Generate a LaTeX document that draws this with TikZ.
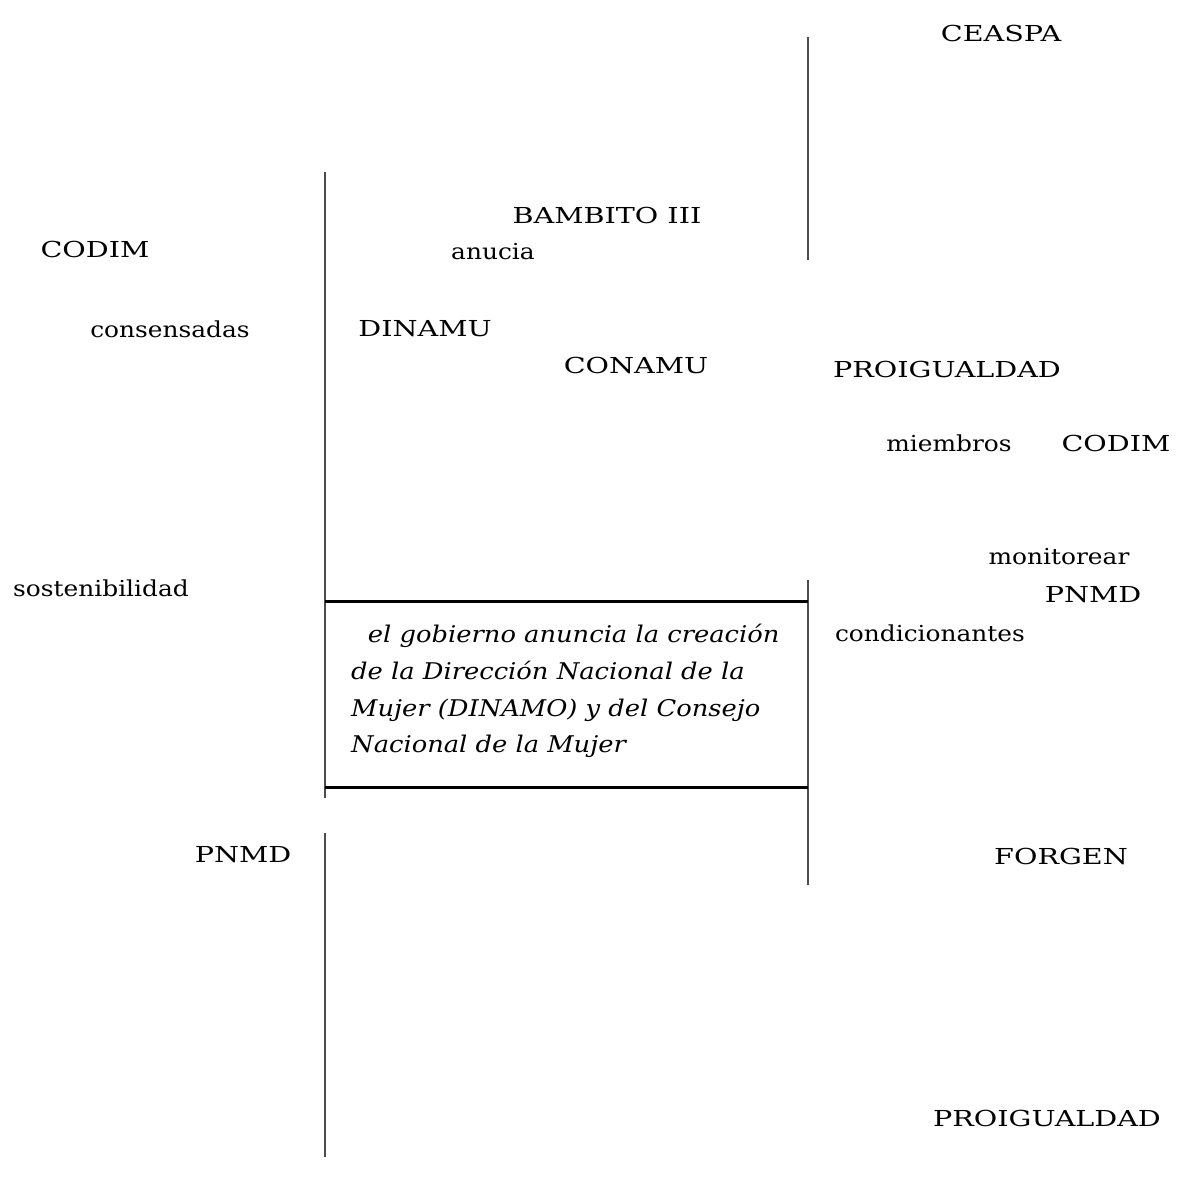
\documentclass[tikz,border=0pt]{standalone}
\usepackage{fontspec}
\setmainfont{DejaVu Serif}
\begin{document}
\begin{tikzpicture}[x=1pt,y=-1pt,
  lbl/.style={font=\fontsize{22}{24}\selectfont, inner sep=0pt, xscale=1.13},
  capslbl/.style={font=\fontsize{22}{24}\selectfont, inner sep=0pt, xscale=1.3},
  vline/.style={draw=black!70, line width=1.4pt},
  hline/.style={draw=black, line width=3pt}]
\useasboundingbox[fill=white] (0,0) rectangle (1177,1185);
% lines
\coordinate (lt) at (325,172);
\coordinate (lb) at (325,798);
\coordinate (lt2) at (325,833);
\coordinate (lb2) at (325,1157);
\coordinate (rt) at (808,37);
\coordinate (rb) at (808,260);
\coordinate (rt2) at (808,580);
\coordinate (rb2) at (808,885);
\coordinate (b1l) at (325,601);
\coordinate (b1r) at (808,601);
\coordinate (b2l) at (325,787);
\coordinate (b2r) at (808,787);
\draw[vline] (lt) -- (lb);
\draw[vline] (lt2) -- (lb2);
\draw[vline] (rt) -- (rb);
\draw[vline] (rt2) -- (rb2);
\draw[hline] (b1l) -- (b1r);
\draw[hline] (b2l) -- (b2r);
% box text
\node[anchor=north west, inner sep=0pt, align=left, xscale=1.12,
  font=\fontsize{23}{36.7}\selectfont\itshape] (txt) at (351,624)
  {\hspace*{0.65em}el gobierno anuncia la creación\\
   de la Dirección Nacional de la\\
   Mujer (DINAMO) y del Consejo\\
   Nacional de la Mujer};
% labels
\node[capslbl] (ceaspa) at (1001,33) {CEASPA};
\node[capslbl] (bambito) at (607,215) {BAMBITO III};
\node[lbl] (anucia) at (493,252) {anucia};
\node[capslbl] (codim1) at (95,249) {CODIM};
\node[lbl] (consens) at (170,329) {consensadas};
\node[capslbl] (dinamu) at (425,329) {DINAMU};
\node[capslbl] (conamu) at (636,365) {CONAMU};
\node[capslbl] (proig1) at (947,369) {PROIGUALDAD};
\node[lbl] (miembros) at (949,443) {miembros};
\node[capslbl] (codim2) at (1116,443) {CODIM};
\node[lbl] (monit) at (1059,557) {monitorear};
\node[capslbl] (pnmd1) at (1093,595) {PNMD};
\node[lbl] (condic) at (930,633) {condicionantes};
\node[lbl] (sosten) at (101,588) {sostenibilidad};
\node[capslbl] (pnmd2) at (243,855) {PNMD};
\node[capslbl] (forgen) at (1061,856) {FORGEN};
\node[capslbl] (proig2) at (1047,1118) {PROIGUALDAD};
\end{tikzpicture}
\end{document}
